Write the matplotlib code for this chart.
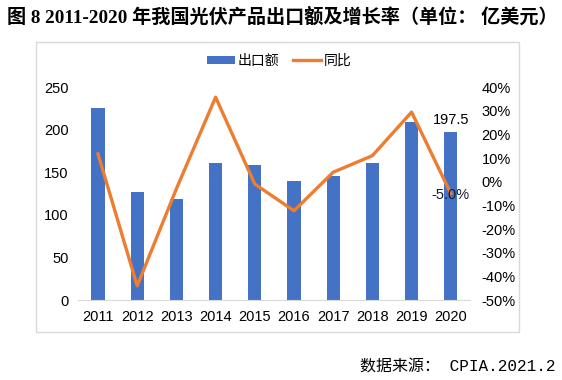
import matplotlib.pyplot as plt
from matplotlib.patches import Rectangle
from matplotlib.ticker import FuncFormatter

plt.rcParams['font.family'] = ['Liberation Sans', 'Noto Sans CJK SC', 'DejaVu Sans']

years = ['2011', '2012', '2013', '2014', '2015', '2016', '2017', '2018', '2019', '2020']
export_value = [225, 127, 119, 161, 159, 140, 146, 161, 209, 197.5]
yoy_pct = [11.7, -44, -3, 35.7, -1, -12.3, 4, 11, 29.4, -5.0]

bar_color = '#4472C4'
line_color = '#ED7D31'

fig = plt.figure(figsize=(5.62, 3.8), dpi=100)
ax = fig.add_axes([0.1395, 0.2105, 0.6975, 0.5605])
ax2 = ax.twinx()

x = list(range(len(years)))
ax.bar(x, export_value, width=0.34, color=bar_color, label='出口额', zorder=2)
ax2.plot(x, yoy_pct, color=line_color, lw=2.4, label='同比', zorder=3)

ax.set_xlim(-0.5, len(years) - 0.5)
ax.set_ylim(0, 250)
ax.set_yticks([0, 50, 100, 150, 200, 250])
ax2.set_ylim(-50, 40)
ax2.set_yticks(range(-50, 41, 10))
ax2.yaxis.set_major_formatter(FuncFormatter(lambda v, p: f'{int(v)}%'))

ax.set_xticks(x)
ax.set_xticklabels(years)
for a in (ax, ax2):
    for s in a.spines.values():
        s.set_visible(False)
    a.tick_params(length=0, labelsize=10.5, colors='black')
ax.spines['bottom'].set_visible(True)
ax.spines['bottom'].set_color('#D9D9D9')
ax.tick_params(axis='x', pad=7)
ax.tick_params(axis='y', pad=7)
ax2.tick_params(axis='y', pad=8)

# data labels for 2020
ax.text(x[-1], export_value[-1] + 6, '197.5', ha='center', va='bottom', fontsize=10.5)
ax2.text(x[-1], yoy_pct[-1] - 0.5, f'{yoy_pct[-1]:.1f}%', ha='center', va='center',
         fontsize=10.5, color='#1A1A2E')

# legend
h1, l1 = ax.get_legend_handles_labels()
h2, l2 = ax2.get_legend_handles_labels()
fig.legend(h1 + h2, l1 + l2, loc='center', bbox_to_anchor=(0.497, 0.84), ncol=2,
           frameon=False, fontsize=10, handlelength=2.0, handleheight=0.5,
           columnspacing=1.0, handletextpad=0.2)

# chart border
fig.patches.append(Rectangle((36 / 562, 1 - 331.7 / 380), (519 - 36) / 562, (331.7 - 41.7) / 380,
                             transform=fig.transFigure, fill=False, edgecolor='#D9D9D9', lw=1))

fig.text(0.012, 0.955, '图 8 2011-2020 年我国光伏产品出口额及增长率（单位： 亿美元）',
         fontsize=13.8, fontweight='bold', family=['Liberation Serif', 'Noto Sans CJK SC'],
         ha='left', va='center')
fig.text(0.988, 0.035, '数据来源： CPIA.2021.2', fontsize=11.5,
         family=['Liberation Mono', 'Noto Sans CJK SC'], ha='right', va='center')

fig.savefig('out.png', dpi=100)
